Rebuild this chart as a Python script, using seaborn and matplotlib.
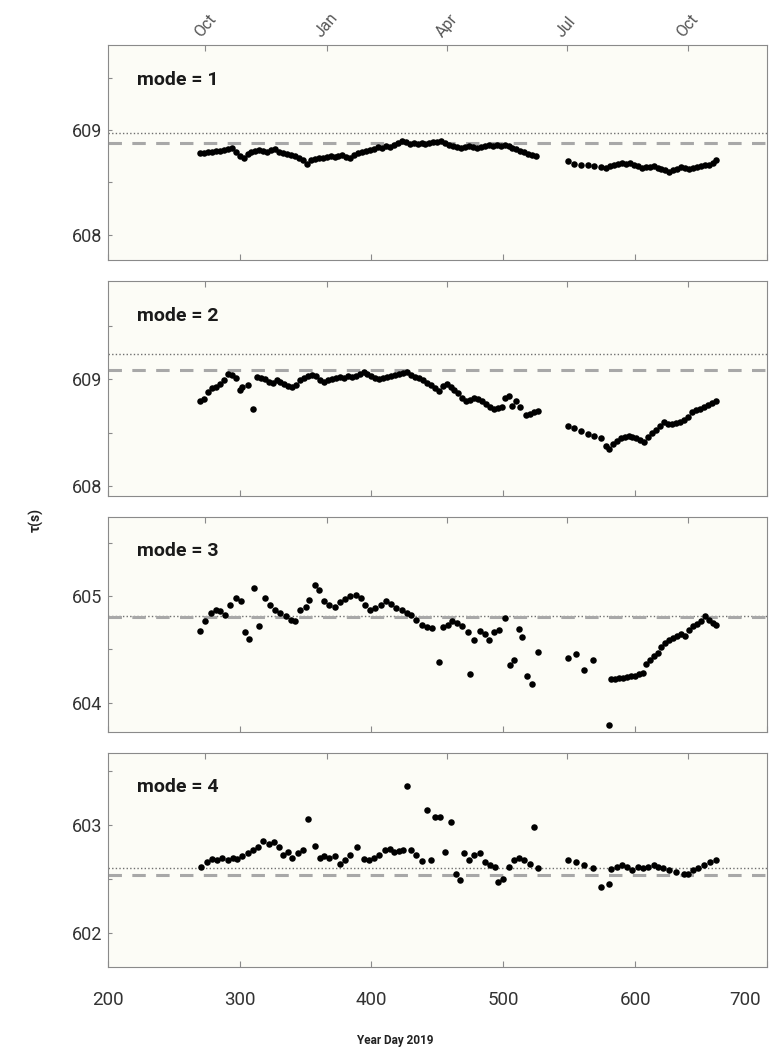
import matplotlib
matplotlib.use("Agg")
import matplotlib.pyplot as plt
import matplotlib.transforms as mtransforms
import numpy as np
import pandas as pd
import seaborn as sns
from matplotlib.ticker import MultipleLocator, NullFormatter, FixedLocator

# ---------------------------------------------------------------- data
# mode 1
MODE1_DAY = [270, 273, 276, 279, 282, 285, 288, 291, 294, 297, 300, 303, 306, 309, 312, 315,
             318, 321, 324, 327, 330, 333, 336, 339, 342, 345, 348, 351, 354, 357, 360, 363,
             366, 369, 372, 375, 378, 381, 384, 387, 390, 393, 396, 399, 402, 405, 408, 411,
             414, 417, 420, 423, 426, 429, 432, 435, 438, 441, 444, 447, 450, 453, 456, 459,
             462, 465, 468, 471, 474, 477, 480, 483, 486, 489, 492, 495, 498, 501, 504, 507,
             510, 513, 516, 519, 522, 525,
             549, 554, 559, 564, 569, 574, 578, 581, 584, 587, 590, 593, 596, 599, 602, 605,
             608, 611, 614, 617, 620, 623, 626, 629, 632, 635, 638, 641, 644, 647, 650, 653,
             656, 659, 661]
MODE1_TAU = [608.78, 608.78, 608.79, 608.79, 608.80, 608.80, 608.81, 608.82, 608.83, 608.79,
             608.75, 608.73, 608.77, 608.79, 608.80, 608.81, 608.80, 608.79, 608.81, 608.82,
             608.79, 608.78, 608.77, 608.76, 608.75, 608.73, 608.71, 608.68, 608.71, 608.72,
             608.73, 608.73, 608.74, 608.75, 608.74, 608.75, 608.76, 608.74, 608.73, 608.76,
             608.78, 608.79, 608.80, 608.81, 608.82, 608.84, 608.83, 608.85, 608.84, 608.86,
             608.88, 608.90, 608.89, 608.87, 608.88, 608.87, 608.88, 608.87, 608.88, 608.89,
             608.89, 608.90, 608.88, 608.86, 608.85, 608.84, 608.83, 608.84, 608.85, 608.84,
             608.83, 608.84, 608.85, 608.86, 608.85, 608.86, 608.85, 608.86, 608.85, 608.83,
             608.82, 608.80, 608.79, 608.77, 608.76, 608.75,
             608.70, 608.68, 608.67, 608.67, 608.66, 608.65, 608.64, 608.66, 608.67, 608.68,
             608.69, 608.68, 608.69, 608.67, 608.66, 608.64, 608.65, 608.65, 608.66, 608.64,
             608.63, 608.62, 608.60, 608.62, 608.63, 608.65, 608.64, 608.63, 608.64, 608.65,
             608.66, 608.67, 608.67, 608.69, 608.71]

# mode 2
MODE2_DAY = [270, 273, 276, 279, 282, 285, 288, 291, 294, 297, 300, 302, 306, 310, 313, 316,
             319, 322, 325, 328, 331, 334, 337, 340, 343, 346, 349, 352, 355, 358, 361, 364,
             367, 370, 373, 376, 379, 382, 385, 388, 391, 394, 397, 400, 403, 406, 409, 412,
             415, 418, 421, 424, 427, 430, 433, 436, 439, 442, 445, 448, 451, 454, 457, 460,
             463, 466, 469, 472, 475, 478, 481, 484, 487, 490, 493, 496, 499, 501, 504, 507,
             510, 513, 517, 520, 523, 526,
             549, 554, 559, 564, 569, 574, 578, 580, 583, 586, 589, 592, 595, 598, 601, 604,
             607, 610, 613, 616, 619, 622, 625, 628, 631, 634, 637, 640, 643, 646, 649, 652,
             655, 658, 661]
MODE2_TAU = [608.80, 608.82, 608.88, 608.92, 608.93, 608.96, 608.99, 609.05, 609.04, 609.01,
             608.90, 608.93, 608.95, 608.72, 609.02, 609.01, 609.00, 608.98, 608.97, 608.99,
             608.98, 608.96, 608.94, 608.93, 608.95, 608.99, 609.01, 609.03, 609.04, 609.03,
             608.99, 608.98, 608.99, 609.00, 609.01, 609.02, 609.01, 609.03, 609.02, 609.03,
             609.05, 609.07, 609.05, 609.03, 609.01, 609.00, 609.01, 609.02, 609.03, 609.04,
             609.05, 609.06, 609.07, 609.04, 609.02, 609.01, 608.99, 608.97, 608.95, 608.92,
             608.89, 608.94, 608.96, 608.93, 608.90, 608.87, 608.83, 608.80, 608.81, 608.83,
             608.82, 608.80, 608.77, 608.74, 608.72, 608.73, 608.74, 608.83, 608.84, 608.75,
             608.80, 608.74, 608.67, 608.68, 608.69, 608.70,
             608.56, 608.54, 608.52, 608.49, 608.47, 608.45, 608.38, 608.35, 608.39, 608.42,
             608.45, 608.46, 608.47, 608.46, 608.45, 608.43, 608.41, 608.46, 608.50, 608.53,
             608.56, 608.60, 608.58, 608.58, 608.59, 608.60, 608.62, 608.65, 608.69, 608.71,
             608.72, 608.74, 608.76, 608.78, 608.80]

# mode 3
MODE3_DAY = [270, 274, 278, 282, 285, 289, 293, 297, 301, 304, 307, 311, 315, 319, 323, 327,
             331, 335, 339, 342, 346, 350, 353, 357, 360, 364, 368, 372, 376, 380, 384, 388,
             392, 395, 399, 403, 407, 411, 415, 419, 423, 427, 430, 434, 438, 442, 446, 451,
             454, 458, 461, 465, 469, 473, 475, 478, 482, 486, 489, 493, 497, 501, 505, 508,
             512, 514, 518, 522, 526,
             549, 555, 561, 568, 580, 582, 585, 588, 591, 594, 597, 600, 603, 606, 608, 611,
             614, 617, 620, 623, 626, 629, 632, 635, 638, 641, 644, 647, 650, 653, 656, 659,
             661]
MODE3_TAU = [604.67, 604.77, 604.84, 604.87, 604.86, 604.82, 604.92, 604.98, 604.95, 604.66,
             604.60, 605.08, 604.72, 604.98, 604.92, 604.87, 604.84, 604.81, 604.78, 604.77,
             604.87, 604.90, 604.96, 605.10, 605.06, 604.95, 604.92, 604.90, 604.94, 604.97,
             605.00, 605.01, 604.98, 604.92, 604.87, 604.89, 604.92, 604.95, 604.93, 604.89,
             604.87, 604.84, 604.82, 604.78, 604.73, 604.71, 604.70, 604.38, 604.71, 604.73,
             604.77, 604.75, 604.72, 604.66, 604.27, 604.59, 604.67, 604.64, 604.59, 604.66,
             604.68, 604.79, 604.35, 604.40, 604.69, 604.62, 604.25, 604.18, 604.48,
             604.42, 604.46, 604.31, 604.40, 603.79, 604.22, 604.22, 604.23, 604.23, 604.24,
             604.25, 604.25, 604.27, 604.28, 604.36, 604.40, 604.44, 604.47, 604.52, 604.56,
             604.59, 604.61, 604.63, 604.64, 604.63, 604.68, 604.72, 604.74, 604.77, 604.81,
             604.78, 604.75, 604.73]

# mode 4
MODE4_DAY = [271, 275, 279, 283, 287, 291, 295, 298, 302, 306, 310, 314, 318, 322, 326, 330,
             333, 337, 340, 344, 348, 352, 357, 361, 364, 368, 372, 376, 380, 384, 389, 394,
             398, 402, 406, 410, 414, 417, 421, 424, 427, 430, 434, 438, 442, 445, 448, 452,
             456, 460, 464, 467, 470, 474, 478, 482, 486, 490, 494, 496, 500, 504, 508, 512,
             516, 520, 523, 526,
             549, 555, 561, 568, 574, 580, 582, 586, 590, 594, 598, 602, 606, 610, 614, 617,
             621, 626, 631, 637, 640, 644, 648, 652, 657, 661]
MODE4_TAU = [602.61, 602.66, 602.69, 602.68, 602.70, 602.68, 602.70, 602.69, 602.71, 602.74,
             602.77, 602.80, 602.85, 602.83, 602.84, 602.80, 602.72, 602.75, 602.70, 602.74,
             602.77, 603.06, 602.81, 602.70, 602.71, 602.70, 602.71, 602.64, 602.68, 602.72,
             602.80, 602.69, 602.68, 602.70, 602.72, 602.77, 602.78, 602.75, 602.76, 602.77,
             603.36, 602.77, 602.72, 602.67, 603.14, 602.68, 603.08, 603.08, 602.75, 603.03,
             602.55, 602.49, 602.74, 602.68, 602.72, 602.74, 602.66, 602.63, 602.61, 602.47,
             602.50, 602.61, 602.68, 602.70, 602.68, 602.64, 602.98, 602.60,
             602.68, 602.66, 602.63, 602.60, 602.43, 602.45, 602.59, 602.61, 602.63, 602.61,
             602.58, 602.61, 602.60, 602.61, 602.63, 602.61, 602.60, 602.58, 602.57, 602.55,
             602.55, 602.58, 602.60, 602.63, 602.66, 602.68]

MODES = [1, 2, 3, 4]
DAYS = [MODE1_DAY, MODE2_DAY, MODE3_DAY, MODE4_DAY]
TAUS = [MODE1_TAU, MODE2_TAU, MODE3_TAU, MODE4_TAU]

# reference periods per mode (dotted and dashed lines)
REF_DOTTED = [608.97, 609.24, 604.81, 602.60]
REF_DASHED = [608.88, 609.09, 604.80, 602.54]

# y ranges and labelled ticks
Y_LIMITS = [(607.76, 609.81), (607.91, 609.92), (603.73, 605.74), (601.68, 603.67)]
Y_TICKS = [[608, 609], [608, 609], [604, 605], [602, 603]]

# calendar months on the top axis (year day counted from 1 Jan 2019)
MONTH_DAYS = [274, 366, 457, 548, 640]
MONTH_LABELS = ["Oct", "Jan", "Apr", "Jul", "Oct"]

X_TICKS = [200, 300, 400, 500, 600, 700]

# ---------------------------------------------------------------- style
sns.set_theme(style="ticks")
plt.rcParams["font.family"] = ["Roboto", "DejaVu Sans"]
plt.rcParams["axes.edgecolor"] = "#8a8a8a"
plt.rcParams["axes.linewidth"] = 0.8
plt.rcParams["xtick.color"] = "#8a8a8a"
plt.rcParams["ytick.color"] = "#8a8a8a"
plt.rcParams["xtick.labelcolor"] = "#333333"
plt.rcParams["ytick.labelcolor"] = "#333333"

fig, axes = plt.subplots(4, 1, figsize=(7.7, 10.55), dpi=100, sharex=True)
fig.subplots_adjust(left=0.140, right=0.996, top=0.957, bottom=0.083, hspace=0.10)

for i, ax in enumerate(axes):
    ax.set_facecolor("#fcfcf6")
    df = pd.DataFrame({"day": DAYS[i], "tau": TAUS[i]})

    ax.axhline(REF_DOTTED[i], color="#6f6f6f", lw=1.0, ls=(0, (1, 1.6)), zorder=1)
    ax.axhline(REF_DASHED[i], color="#a8a8a8", lw=2.2, ls=(0, (4.4, 3.4)), zorder=1)

    sns.scatterplot(data=df, x="day", y="tau", ax=ax, color="black", s=22,
                    linewidth=0, zorder=3, legend=False)

    ax.set_xlim(200, 700)
    ax.set_ylim(*Y_LIMITS[i])
    ax.yaxis.set_major_locator(FixedLocator(Y_TICKS[i]))
    ax.yaxis.set_minor_locator(MultipleLocator(0.5))
    ax.yaxis.set_minor_formatter(NullFormatter())
    ax.tick_params(axis="y", which="both", direction="in", length=3, width=0.8,
                   labelsize=13, pad=4)
    ax.set_xticks(X_TICKS)
    ax.tick_params(axis="x", which="both", direction="in", length=4, width=0.8,
                   labelsize=13.5, pad=17)
    ax.set_xlabel("")
    ax.set_ylabel("")

    top = ax.secondary_xaxis("top")
    top.set_xticks(MONTH_DAYS)
    top.tick_params(direction="in", length=4, width=0.8, colors="#8a8a8a",
                    labelcolor="#555555", labelsize=11.5, pad=4)
    if i == 0:
        top.set_xticklabels(MONTH_LABELS, rotation=50, ha="center", va="bottom")
    else:
        top.set_xticklabels([])
    top.spines["top"].set_visible(False)

    ax.text(0.045, 0.84, f"mode = {MODES[i]}", transform=ax.transAxes,
            fontsize=14, fontweight="bold", color="#1a1a1a", va="center", ha="left")

# keep the last day label inside the canvas
last = axes[-1].get_xticklabels()[-1]
last.set_horizontalalignment("right")
last.set_transform(last.get_transform() + mtransforms.ScaledTranslation(-4 / 72, 0, fig.dpi_scale_trans))

fig.text(0.047, 0.507, "τ(s)", rotation=90, fontsize=10, fontweight="bold",
         color="#222222", ha="center", va="center")
fig.text(0.513, 0.014, "Year Day 2019", fontsize=8.5, fontweight="bold",
         color="#222222", ha="center", va="center")

fig.savefig("out.png", dpi=100, facecolor="white")
